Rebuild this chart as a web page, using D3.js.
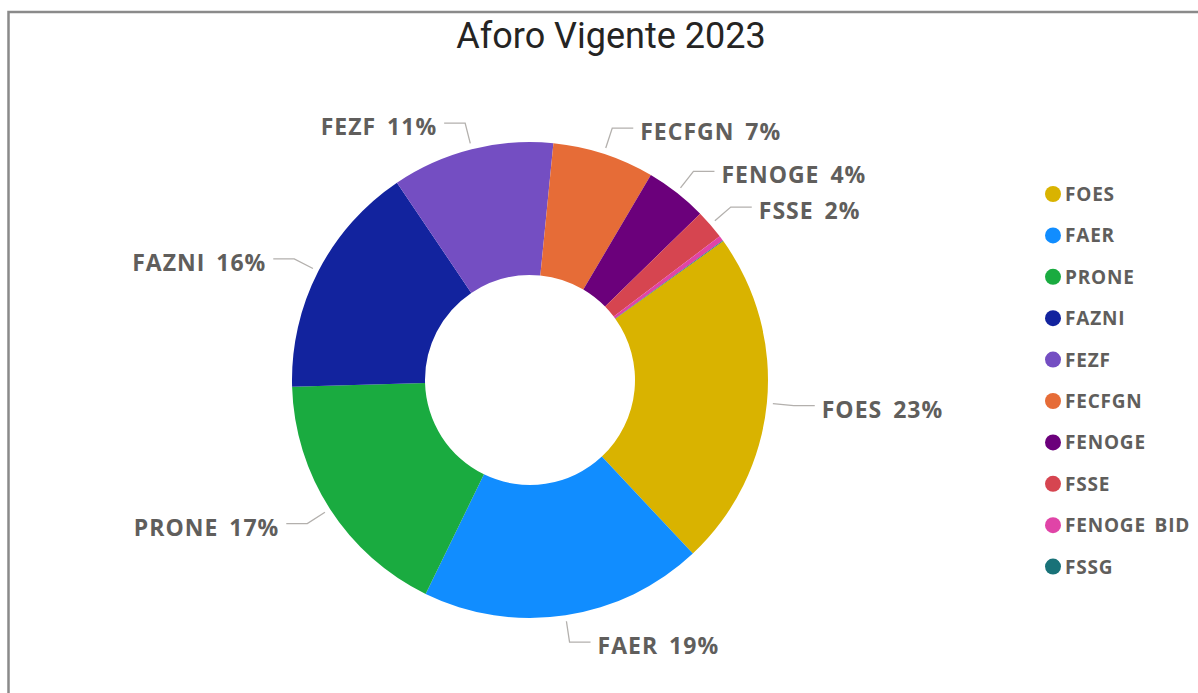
<!DOCTYPE html>
<html>
<head>
<meta charset="utf-8">
<script src="https://cdn.jsdelivr.net/npm/d3@7"></script>
<style>
  body { margin: 0; background: #fff; }
  svg { display: block; }
</style>
</head>
<body>
<div id="chart"></div>
<script>
// data (share of total, %)
var categories = ["FOES", "FAER", "PRONE", "FAZNI", "FEZF", "FECFGN", "FENOGE", "FSSE", "FENOGE BID", "FSSG"];
var values = [22.9, 19.2, 17.3, 16.0, 11.0, 6.9, 4.2, 2.0, 0.35, 0.05];
var colors = ["#D9B300", "#118DFF", "#1AAB40", "#12239E", "#744EC2", "#E66C37", "#6B007B", "#D64550", "#E044A7", "#197278"];

var W = 1198, H = 693;
var cx = 530, cy = 380;
var outerR = 238, innerR = 105;
var start = 54.3 * Math.PI / 180;

var data = categories.map(function(c, i) { return { name: c, value: values[i] }; });
var total = d3.sum(values);

var color = d3.scaleOrdinal().domain(categories).range(colors);

var svg = d3.select("#chart").append("svg")
    .attr("width", W)
    .attr("height", H);

// visual frame
svg.append("rect")
    .attr("x", 8.5).attr("y", 12)
    .attr("width", W + 20).attr("height", H + 20)
    .attr("fill", "none")
    .attr("stroke", "#8a8a8a")
    .attr("stroke-width", 2.5);

svg.append("text")
    .attr("x", 611).attr("y", 48)
    .attr("text-anchor", "middle")
    .attr("font-family", "Roboto, 'DejaVu Sans', sans-serif")
    .attr("font-size", 36)
    .attr("fill", "#252423")
    .text("Aforo Vigente 2023");

var pie = d3.pie()
    .sort(null)
    .value(function(d) { return d.value; })
    .startAngle(start)
    .endAngle(start + 2 * Math.PI);

var arc = d3.arc().innerRadius(innerR).outerRadius(outerR);
var lineStart = d3.arc().innerRadius(244).outerRadius(244);
var elbowArc = d3.arc().innerRadius(265).outerRadius(265);

var g = svg.append("g").attr("transform", "translate(" + cx + "," + cy + ")");
var arcs = pie(data);

g.selectAll("path.slice")
    .data(arcs)
    .enter().append("path")
    .attr("class", "slice")
    .attr("d", arc)
    .attr("fill", function(d) { return color(d.data.name); });

// labels only for slices that get one
var labelled = arcs.filter(function(d) { return d.data.value / total >= 0.01; });

labelled.forEach(function(d) {
    var mid = (d.startAngle + d.endAngle) / 2;
    var right = Math.sin(mid) >= 0;
    var p0 = lineStart.centroid(d);
    var p1 = elbowArc.centroid(d);
    var p2 = [p1[0] + (right ? 21 : -21), p1[1]];

    g.append("polyline")
        .attr("points", [p0, p1, p2].map(function(p) { return p.join(","); }).join(" "))
        .attr("fill", "none")
        .attr("stroke", "#b3b0ad")
        .attr("stroke-width", 1.3);

    g.append("text")
        .attr("x", p2[0] + (right ? 7 : -7))
        .attr("y", p2[1] + 12)
        .attr("text-anchor", right ? "start" : "end")
        .attr("font-family", "'Open Sans', 'Noto Sans', sans-serif")
        .attr("font-weight", "bold")
        .attr("font-size", 23)
        .attr("letter-spacing", 1)
        .attr("word-spacing", 4)
        .attr("fill", "#605E5C")
        .text(d.data.name + " " + Math.round(d.data.value / total * 100) + "%");
});

// legend
var legend = svg.append("g").attr("transform", "translate(1053,194)");
var item = legend.selectAll("g")
    .data(categories)
    .enter().append("g")
    .attr("transform", function(d, i) { return "translate(0," + (i * 41.4) + ")"; });

item.append("circle")
    .attr("r", 8)
    .attr("fill", function(d) { return color(d); });

item.append("text")
    .attr("x", 12)
    .attr("y", 7)
    .attr("font-family", "'Open Sans', 'Noto Sans', sans-serif")
    .attr("font-weight", "bold")
    .attr("font-size", 19)
    .attr("letter-spacing", 0.8)
    .attr("word-spacing", 3)
    .attr("fill", "#605E5C")
    .text(function(d) { return d; });
</script>
</body>
</html>
